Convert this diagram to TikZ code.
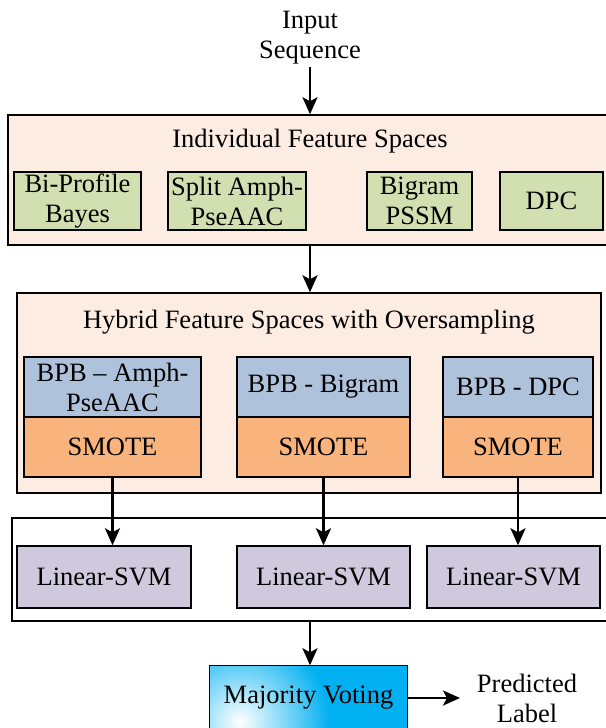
\documentclass[tikz,border=0pt]{standalone}
\usepackage{fontspec}
\setmainfont{Liberation Serif}
\usetikzlibrary{arrows.meta}
\definecolor{peach}{HTML}{FCECE2}
\definecolor{leaf}{HTML}{D2DFB0}
\definecolor{steel}{HTML}{AFC2DB}
\definecolor{apricot}{HTML}{F8B47C}
\definecolor{lilac}{HTML}{D0C8DD}
\definecolor{sky}{HTML}{00B0F0}
\tikzset{
  panel/.style={draw=black, line width=1.4pt, inner sep=0pt},
  box/.style={draw=black, line width=1.4pt, inner sep=0pt, align=center},
  lbl/.style={align=center, inner sep=0pt},
  flow/.style={line width=2.8pt, -{Stealth[length=17pt,width=15pt,inset=4pt]}}
}
\begin{document}
\begin{tikzpicture}[x=1pt, y=-1pt, font=\fontsize{26.5}{30}\selectfont]
\useasboundingbox (0,0) rectangle (605,728);

% input
\node[lbl] (inp) at (310,38) {Input\\Sequence};
\coordinate (inpb) at (310,67);

% individual feature spaces
\node[panel, fill=peach, minimum width=604pt, minimum height=130pt] (ifs) at (310,180) {};
\node[lbl] (ifst) at (310,141) {Individual Feature Spaces};
\node[box, fill=leaf, minimum width=127pt, minimum height=58pt] (bpb) at (77.5,201) {Bi-Profile\\Bayes};
\node[box, fill=leaf, minimum width=138pt, minimum height=58pt] (split) at (237,201) {Split Amph-\\PseAAC};
\node[box, fill=leaf, minimum width=105pt, minimum height=58pt] (bigram) at (419.5,201) {Bigram\\PSSM};
\node[box, fill=leaf, minimum width=103pt, minimum height=58pt] (dpc) at (551.5,201) {DPC};

% hybrid feature spaces
\node[panel, fill=peach, minimum width=584pt, minimum height=200pt] (hfs) at (309,393) {};
\node[lbl] (hfst) at (309,322) {Hybrid Feature Spaces with Oversampling};
\node[box, fill=steel, minimum width=177pt, minimum height=60pt] (ha) at (112.5,387) {BPB -- Amph-\\PseAAC};
\node[box, fill=steel, minimum width=173pt, minimum height=60pt] (hb) at (323.5,387) {BPB - Bigram};
\node[box, fill=steel, minimum width=150pt, minimum height=60pt] (hc) at (518,387) {BPB - DPC};
\node[box, fill=apricot, minimum width=177pt, minimum height=60pt] (sa) at (112.5,447) {SMOTE};
\node[box, fill=apricot, minimum width=173pt, minimum height=60pt] (sb) at (323.5,447) {SMOTE};
\node[box, fill=apricot, minimum width=150pt, minimum height=60pt] (sc) at (518,447) {SMOTE};

% classifiers
\node[panel, fill=white, minimum width=600pt, minimum height=103pt] (cls) at (312,569.5) {};
\node[box, fill=lilac, minimum width=174pt, minimum height=62pt] (va) at (104,577) {Linear-SVM};
\node[box, fill=lilac, minimum width=173pt, minimum height=62pt] (vb) at (323.5,577) {Linear-SVM};
\node[box, fill=lilac, minimum width=173pt, minimum height=62pt] (vc) at (513.5,577) {Linear-SVM};

% majority voting
\node[box, minimum width=197pt, minimum height=64pt] (mv) at (308.5,698) {};
\begin{scope}
  \clip (mv.south west) rectangle (mv.north east);
  \fill[sky] (mv.south west) rectangle (mv.north east);
  \shade[inner color=white, outer color=sky] (240,722) circle (90pt);
\end{scope}
\draw[line width=1.4pt] (mv.south west) rectangle (mv.north east);
\node[lbl] (mvt) at (mv.center) {Majority Voting};
\node[lbl] (pred) at (527,698) {Predicted\\Label};
\coordinate (mvout) at (460,698);

% connectors
\draw[flow] (inpb) -- (ifs.north);
\draw[flow] (ifs.south -| 310,0) -- (hfs.north -| 310,0);
\draw[flow] (sa.south) -- (sa.south |- va.north);
\draw[flow] (sb.south) -- (sb.south |- vb.north);
\draw[flow] (sc.south) -- (sc.south |- vc.north);
\draw[flow] (cls.south -| 310,0) -- (mv.north -| 310,0);
\draw[flow] (mv.east) -- (mvout);
\end{tikzpicture}
\end{document}
